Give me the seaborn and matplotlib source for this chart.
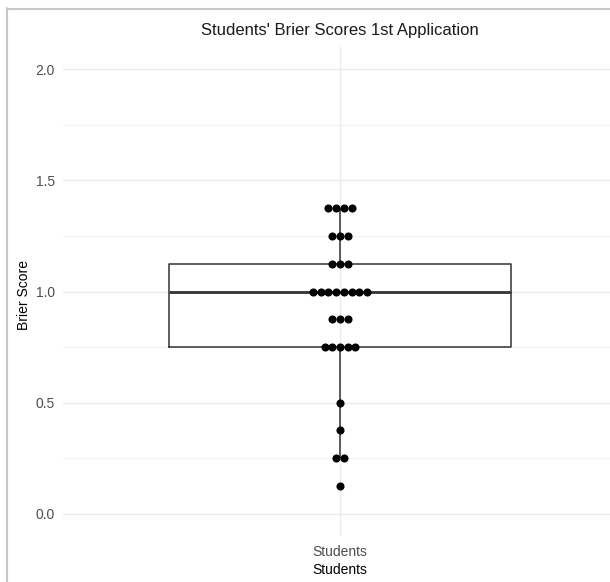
import numpy as np
import pandas as pd
import matplotlib
matplotlib.use("Agg")
import matplotlib.pyplot as plt
from matplotlib.lines import Line2D
import seaborn as sns

# ---- data ----
group = "Students"
scores = [1.375, 1.375, 1.375, 1.375,
          1.25, 1.25, 1.25,
          1.125, 1.125, 1.125,
          1.0, 1.0, 1.0, 1.0, 1.0, 1.0, 1.0, 1.0,
          0.875, 0.875, 0.875,
          0.75, 0.75, 0.75, 0.75, 0.75,
          0.5, 0.375, 0.25, 0.25, 0.125]
y_ticks = [0.0, 0.5, 1.0, 1.5, 2.0]
y_minor = [0.25, 0.75, 1.25, 1.75]
title = "Students' Brier Scores 1st Application"
x_label = "Students"
y_label = "Brier Score"

df = pd.DataFrame({"group": [group] * len(scores), "score": scores})

# centered dot stacking (dotplot style) computed from the data
spacing = 0.0179
offs = np.zeros(len(scores))
for v in np.unique(scores):
    idx = np.where(np.array(scores) == v)[0]
    n = len(idx)
    offs[idx] = (np.arange(n) - (n - 1) / 2) * spacing
df["xoff"] = offs

sns.set_theme(style="white")
plt.rcParams["font.family"] = ["Liberation Sans", "DejaVu Sans"]

W, H = 610, 582
fig = plt.figure(figsize=(W / 100, H / 100), dpi=100)
ax = fig.add_axes([63 / W, (H - 536) / H, (617 - 63) / W, (536 - 47) / H])

# grid
for t in y_ticks:
    ax.axhline(t, color="#EBEBEB", lw=1.0, zorder=0)
for t in y_minor:
    ax.axhline(t, color="#F2F2F2", lw=0.8, zorder=0)
ax.axvline(0, color="#EBEBEB", lw=1.0, zorder=0)

sns.boxplot(data=df, x="group", y="score", ax=ax, width=0.8, fill=False,
            color="#333333", linewidth=1.1, showcaps=False, showfliers=False,
            whis=1.5, medianprops=dict(linewidth=2.0, color="#333333"),
            zorder=2)

sns.scatterplot(data=df, x="xoff", y="score", ax=ax, color="black",
                s=34, marker="o", edgecolor="black", linewidth=0, zorder=3)

ax.set_xlim(-0.6465, 0.6465)
ax.set_ylim(-0.1, 2.1)
ax.set_yticks(y_ticks)
ax.set_yticklabels([f"{t:.1f}" for t in y_ticks])
ax.set_xticks([0])
ax.set_xticklabels([group])
ax.tick_params(axis="both", length=0, labelsize=10, colors="#4D4D4D")
ax.tick_params(axis="y", pad=6)
ax.tick_params(axis="x", pad=6.5)
for s in ax.spines.values():
    s.set_visible(False)
ax.set_xlabel("")
ax.set_ylabel("")

fig.text(340 / W, 1 - 30 / H, title, ha="center", va="center", fontsize=12, color="#1A1A1A")
fig.text(340 / W, 1 - 570 / H, x_label, ha="center", va="center", fontsize=10, color="black")
fig.text(24 / W, 1 - 295 / H, y_label, ha="center", va="center", rotation=90, fontsize=10, color="black")

# screenshot frame lines
fig.add_artist(Line2D([7 / W, 7 / W], [0, 1 - 8 / H], color="#C8C8C8", lw=1.5, transform=fig.transFigure))
fig.add_artist(Line2D([7 / W, 1], [1 - 9 / H, 1 - 9 / H], color="#C8C8C8", lw=1.5, transform=fig.transFigure))

fig.savefig("out.png", dpi=100)
